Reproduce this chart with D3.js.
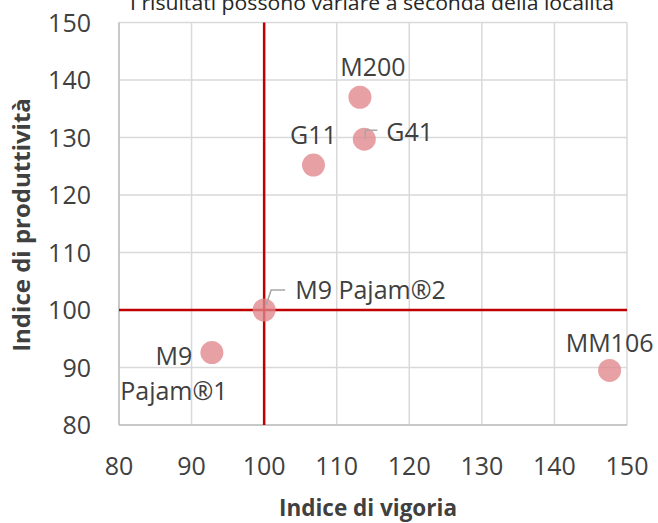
<!DOCTYPE html>
<html>
<head>
<meta charset="utf-8">
<script src="https://cdn.jsdelivr.net/npm/d3@7"></script>
<style>
  body { margin: 0; background: #fff; }
  text { font-family: "Open Sans", sans-serif; fill: #404040; }
</style>
</head>
<body>
<svg id="chart" width="658" height="523"></svg>
<script>
// rootstock data: vigour index (x) vs productivity index (y)
const names = ['M9 Pajam®2', 'M9|Pajam®1', 'G11', 'M200', 'G41', 'MM106'];
const vigour = [100, 92.8, 106.8, 113.2, 113.8, 147.6];
const productivity = [100, 92.6, 125.2, 137.0, 129.7, 89.5];
const xTicks = [80, 90, 100, 110, 120, 130, 140, 150];
const yTicks = [80, 90, 100, 110, 120, 130, 140, 150];
const title = 'I risultati possono variare a seconda della località';
const xTitle = 'Indice di vigoria';
const yTitle = 'Indice di produttività';

// label placement relative to each point (pixels), and anchor
const labelLayout = [
  { dx: 31, dy: -11, anchor: 'start', leader: [[2, -5], [7, -20], [21, -20]] },
  { dx: -38, dy: 12, anchor: 'middle', lineGap: 35 },
  { dx: 0, dy: -21, anchor: 'middle' },
  { dx: 13, dy: -21, anchor: 'middle' },
  { dx: 22, dy: 2, anchor: 'start', leader: [[1, 0], [1, -9], [13, -9]] },
  { dx: 0, dy: -18, anchor: 'middle' }
];

const svg = d3.select('#chart');
const margin = { left: 119, right: 31, top: 22.5, bottom: 98 };
const W = 658, H = 523;

const x = d3.scaleLinear().domain([80, 150]).range([margin.left, W - margin.right]);
const y = d3.scaleLinear().domain([80, 150]).range([H - margin.bottom, margin.top]);

// gridlines
svg.append('g')
  .selectAll('line')
  .data(xTicks)
  .join('line')
  .attr('x1', d => x(d)).attr('x2', d => x(d))
  .attr('y1', y(80)).attr('y2', y(150))
  .attr('stroke', '#d9d9d9').attr('stroke-width', 1.5);
svg.append('g')
  .selectAll('line')
  .data(yTicks)
  .join('line')
  .attr('x1', x(80)).attr('x2', x(150))
  .attr('y1', d => y(d)).attr('y2', d => y(d))
  .attr('stroke', '#d9d9d9').attr('stroke-width', 1.5);

// frame (axis lines)
svg.append('line')
  .attr('x1', x(80)).attr('x2', x(80)).attr('y1', y(80)).attr('y2', y(150))
  .attr('stroke', '#bfbfbf').attr('stroke-width', 1.5);
svg.append('line')
  .attr('x1', x(80)).attr('x2', x(150)).attr('y1', y(80)).attr('y2', y(80))
  .attr('stroke', '#bfbfbf').attr('stroke-width', 1.5);

// tick labels
svg.append('g')
  .selectAll('text')
  .data(xTicks)
  .join('text')
  .attr('x', d => x(d))
  .attr('y', y(80) + 50)
  .attr('text-anchor', 'middle')
  .attr('font-size', 25)
  .text(d => d);
svg.append('g')
  .selectAll('text')
  .data(yTicks)
  .join('text')
  .attr('x', x(80) - 28)
  .attr('y', d => y(d) + 9)
  .attr('text-anchor', 'end')
  .attr('font-size', 25)
  .text(d => d);

// reference lines at 100
svg.append('line')
  .attr('x1', x(80)).attr('x2', x(150)).attr('y1', y(100)).attr('y2', y(100))
  .attr('stroke', '#c00000').attr('stroke-width', 2.5);
svg.append('line')
  .attr('x1', x(100)).attr('x2', x(100)).attr('y1', y(80)).attr('y2', y(150))
  .attr('stroke', '#c00000').attr('stroke-width', 2.5);

// points
svg.append('g')
  .selectAll('circle')
  .data(names.map((n, i) => i))
  .join('circle')
  .attr('cx', i => x(vigour[i]))
  .attr('cy', i => y(productivity[i]))
  .attr('r', 11.5)
  .attr('fill', '#e0878a')
  .attr('fill-opacity', 0.78);

// leader lines
names.forEach((n, i) => {
  const L = labelLayout[i];
  if (!L.leader) return;
  const px = x(vigour[i]), py = y(productivity[i]);
  svg.append('path')
    .attr('d', d3.line()(L.leader.map(p => [px + p[0], py + p[1]])))
    .attr('fill', 'none')
    .attr('stroke', '#a6a6a6')
    .attr('stroke-width', 1.5);
});

// labels
names.forEach((n, i) => {
  const L = labelLayout[i];
  const px = x(vigour[i]), py = y(productivity[i]);
  const lines = n.split('|');
  const t = svg.append('text')
    .attr('x', px + L.dx)
    .attr('y', py + L.dy)
    .attr('text-anchor', L.anchor)
    .attr('font-size', 25);
  lines.forEach((s, k) => {
    t.append('tspan')
      .attr('x', px + L.dx)
      .attr('y', py + L.dy + k * (L.lineGap || 0))
      .text(s);
  });
});

// title (cut at the top edge, as in the original)
svg.append('text')
  .attr('x', 372)
  .attr('y', 10)
  .attr('text-anchor', 'middle')
  .attr('font-family', 'Lato, sans-serif')
  .attr('font-size', 20)
  .attr('textLength', 484)
  .attr('lengthAdjust', 'spacingAndGlyphs')
  .style('fill', '#262626')
  .text(title);

// axis titles
svg.append('text')
  .attr('x', (x(80) + x(150)) / 2 - 5)
  .attr('y', 516)
  .attr('text-anchor', 'middle')
  .attr('font-size', 22.5)
  .attr('font-weight', 'bold')
  .text(xTitle);
svg.append('text')
  .attr('transform', 'translate(30,225) rotate(-90)')
  .attr('text-anchor', 'middle')
  .attr('font-size', 24)
  .attr('font-weight', 'bold')
  .text(yTitle);
</script>
</body>
</html>
